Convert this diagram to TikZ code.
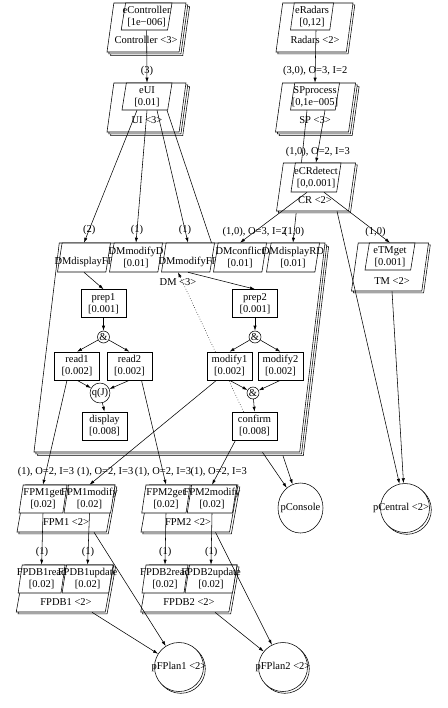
\documentclass[tikz,border=0pt]{standalone}
\usepackage{fontspec}
\setmainfont{Liberation Serif}
\usepackage{tikz}
\usetikzlibrary{calc, shapes.geometric, shadows, arrows.meta}

\begin{document}
\begin{tikzpicture}[x=1pt, y=-1pt, line width=0.55pt,
    font=\fontsize{10.5}{12}\selectfont,
    lqn/.style={trapezium, trapezium left angle=84, trapezium right angle=96,
        trapezium stretches=true, draw, fill=white, inner sep=1pt},
    sh1/.style={general shadow={shadow xshift=1.8pt, shadow yshift=-1.8pt, draw, fill=white}},
    sh2/.style={general shadow={shadow xshift=3.6pt, shadow yshift=-3.6pt, draw, fill=white}, sh1},
    txt/.style={align=center, inner sep=0pt},
    et/.style={label={[txt]center:{#1}}},
    et1/.style={label={[txt, yshift=-4.5pt]center:{#1}}},
    act/.style={draw, fill=white, minimum width=45pt, minimum height=28pt, align=center, inner sep=1pt},
    junc/.style={circle, draw, fill=white, inner sep=0.4pt},
    proc/.style={circle, draw, fill=white, minimum size=49pt, inner sep=0pt},
    call/.style={-{Latex[length=5pt, width=3.2pt]}},
    reply/.style={call, dotted},
    lbl/.style={inner sep=0pt, pos=#1},
]
    \useasboundingbox (0,0) rectangle (447,708);

    % --- 1. 處理器 (processors) ---
    \node[proc, ellipse, minimum width=45pt, minimum height=50pt, et={pConsole}] (pConsole) at (300.5,508) {};
    \node[proc, sh1, label={[txt, xshift=-4pt]center:{pCentral <2>}}] (pCentral) at (405,508) {};
    \node[proc, sh1, et={pFPlan1 <2>}] (pFPlan1) at (179,667) {};
    \node[proc, sh1, et={pFPlan2 <2>}] (pFPlan2) at (283,667) {};

    % --- 2. 上層任務 Controller, Radars ---
    \node[lqn, sh2, minimum width=79pt, minimum height=49pt] (Controller) at (146.5,27.5) {};
    \node[lqn, minimum width=50.8pt, minimum height=27pt, et={eController\\{[1e−006]}}] (eController) at (146.6,16.5) {};
    \node[txt] (ControllerT) at (146,40) {Controller <3>};
    \node[lqn, sh1, minimum width=77pt, minimum height=49pt] (Radars) at (314.5,27.5) {};
    \node[lqn, minimum width=43pt, minimum height=27pt, et={eRadars\\{[0,12]}}] (eRadars) at (312,16.5) {};
    \node[txt] (RadarsT) at (315,40) {Radars <2>};

    % --- 3. UI, SP ---
    \node[lqn, sh2, minimum width=79pt, minimum height=49pt] (UI) at (146.5,107.5) {};
    \node[lqn, minimum width=50pt, minimum height=27pt, et={eUI\\{[0.01]}}] (eUI) at (147,96.5) {};
    \node[txt] (UIT) at (147,120) {UI <3>};
    \node[lqn, sh2, minimum width=80pt, minimum height=49pt] (SP) at (315.5,107.5) {};
    \node[lqn, minimum width=49pt, minimum height=27pt, et={SPprocess\\{[0,1e−005]}}] (SPprocess) at (315,96.5) {};
    \node[txt] (SPT) at (315,120) {SP <3>};

    \draw[call] (eController.south) -- node[lbl=0.77] (c1) {(3)} (eUI.north);
    \draw[call] ($(eRadars.south)+(4,0)$) -- node[lbl=0.77] (c2) {(3,0), O=3, I=2} (SPprocess.north);
    % UI -> pConsole (被 DM 遮住)
    \draw[call] ($(eUI.south)+(20,0)$) -- (pConsole);

    % --- 4. DM 任務與入口 ---
    \node[lqn, sh2, minimum width=291pt, minimum height=209pt] (DM) at (179.5,347.5) {};
    \node[lqn, minimum width=53pt, minimum height=29pt, et1={DMdisplayFP}] (DMdisplayFP) at (84,257.5) {};
    \node[lqn, minimum width=53pt, minimum height=29pt, et={DMmodifyD\\{[0.01]}}] (DMmodifyD) at (136,257.5) {};
    \node[lqn, minimum width=53pt, minimum height=29pt, et1={DMmodifyFP}] (DMmodifyFP) at (188,257.5) {};
    \node[lqn, minimum width=53pt, minimum height=29pt, et={DMconflict\\{[0.01]}}] (DMconflict) at (240,257.5) {};
    \node[lqn, minimum width=53pt, minimum height=29pt, et={DMdisplayRD\\{[0.01]}}] (DMdisplayRD) at (293,257.5) {};
    \node[txt] (DMT) at (178,282) {DM <3>};

    % SP -> DMdisplayRD (被 CR 遮住)
    \draw[call] ($(SPprocess.south)+(-8,0)$) -- node[lbl=0.92] (c3) {(1,0)} (DMdisplayRD.north);

    % --- 5. CR, TM ---
    \node[lqn, sh1, minimum width=79pt, minimum height=48pt] (CR) at (316,187) {};
    \node[lqn, minimum width=50pt, minimum height=29pt, et={eCRdetect\\{[0,0.001]}}] (eCRdetect) at (316,177.5) {};
    \node[txt] (CRT) at (315,200) {CR <2>};
    \node[lqn, sh1, minimum width=77pt, minimum height=48pt] (TM) at (390,267) {};
    \node[lqn, minimum width=50pt, minimum height=27pt, et={eTMget\\{[0.001]}}] (eTMget) at (390,256.5) {};
    \node[txt] (TMT) at (392,281) {TM <2>};

    \draw[call] ($(SPprocess.south)+(10,0)$) -- node[lbl=0.79] (c4) {(1,0), O=2, I=3} (eCRdetect.north);
    \draw[call] ($(eCRdetect.south)+(-9,0)$) -- node[lbl=0.78] (c5) {(1,0), O=3, I=2} (DMconflict.north);
    \draw[call] ($(eCRdetect.south)+(8,0)$) -- node[lbl=0.78] (c6) {(1,0)} (eTMget.north);
    \draw[call] ($(eUI.south)+(-10,0)$) -- node[lbl=0.9] (c7) {(2)} (DMdisplayFP.north);
    \draw[call] (eUI.south) -- node[lbl=0.9] (c8) {(1)} (DMmodifyD.north);
    \draw[call] ($(eUI.south)+(10,0)$) -- node[lbl=0.9] (c9) {(1)} (DMmodifyFP.north);

    % --- 6. DM 內部活動 ---
    \node[act] (prep1) at (103.5,303.5) {prep1\\{[0.001]}};
    \node[act] (prep2) at (255,303.5) {prep2\\{[0.001]}};
    \node[junc] (fork1) at (103.5,337) {\&};
    \node[junc] (fork2) at (255,337) {\&};
    \node[act] (read1) at (77,366) {read1\\{[0.002]}};
    \node[act] (read2) at (129.5,366) {read2\\{[0.002]}};
    \node[junc] (join1) at (100,393) {q(J)};
    \node[act] (display) at (104.5,426) {display\\{[0.008]}};
    \node[act] (confirm) at (254.5,426) {confirm\\{[0.008]}};
    \node[junc] (join2) at (253,393) {\&};
    \draw[reply] ($(confirm.north)+(-11,0)$) -- ($(DMmodifyFP.south)+(-10,0)$);
    \node[act] (modify1) at (229.5,366) {modify1\\{[0.002]}};
    \node[act] (modify2) at (280.5,366) {modify2\\{[0.002]}};

    \draw[call] (DMdisplayFP.south) -- (prep1.north);
    \draw[call] (DMmodifyFP.south) -- (prep2.north);
    \draw[call] (prep1) -- (fork1);
    \draw[call] (fork1) -- (read1.north);
    \draw[call] (fork1) -- (read2.north);
    \draw[call] (read1.south) -- (join1);
    \draw[call] (read2.south) -- (join1);
    \draw[call] (join1) -- (display.north);
    \draw[call] (prep2) -- (fork2);
    \draw[call] (fork2) -- (modify1.north);
    \draw[call] (fork2) -- (modify2.north);
    \draw[call] (modify1.south) -- (join2);
    \draw[call] (modify2.south) -- (join2);
    \draw[call] (join2) -- (confirm.north);

    % --- 7. FPM, FPDB ---
    \node[lqn, sh1, minimum width=98pt, minimum height=47pt] (FPM1) at (66,508.5) {};
    \node[lqn, minimum width=48pt, minimum height=28pt, et={FPM1get\\{[0.02]}}] (FPM1get) at (43,499) {};
    \node[lqn, minimum width=51pt, minimum height=28pt, et={FPM1modify\\{[0.02]}}] (FPM1modify) at (89.5,499) {};
    \node[txt] (FPM1T) at (66,522) {FPM1 <2>};
    \node[lqn, sh1, minimum width=97pt, minimum height=47pt] (FPM2) at (189.5,508.5) {};
    \node[lqn, minimum width=48.5pt, minimum height=28pt, et={FPM2get\\{[0.02]}}] (FPM2get) at (166,499) {};
    \node[lqn, minimum width=49.5pt, minimum height=28pt, et={FPM2modify\\{[0.02]}}] (FPM2modify) at (212,499) {};
    \node[txt] (FPM2T) at (188,522) {FPM2 <2>};
    \node[lqn, sh1, minimum width=97.5pt, minimum height=47pt] (FPDB1) at (65,588.5) {};
    \node[lqn, minimum width=47pt, minimum height=28pt, et={FPDB1read\\{[0.02]}}] (FPDB1read) at (41.6,579) {};
    \node[lqn, minimum width=51pt, minimum height=28pt, et={FPDB1update\\{[0.02]}}] (FPDB1update) at (87.6,579) {};
    \node[txt] (FPDB1T) at (66,602) {FPDB1 <2>};
    \node[lqn, sh1, minimum width=96.5pt, minimum height=47pt] (FPDB2) at (189,588.5) {};
    \node[lqn, minimum width=46pt, minimum height=28pt, et={FPDB2read\\{[0.02]}}] (FPDB2read) at (165,579) {};
    \node[lqn, minimum width=52pt, minimum height=28pt, et={FPDB2update\\{[0.02]}}] (FPDB2update) at (211,579) {};
    \node[txt] (FPDB2T) at (189,602) {FPDB2 <2>};

    \draw[call] ($(read1.south)+(-10,0)$) -- node[lbl=0.876] (c10) {(1), O=2, I=3} (FPM1get.north);
    \draw[call] ($(modify1.south)+(-13,0)$) -- node[lbl=0.876] (c11) {(1), O=2, I=3} (FPM1modify.north);
    \draw[call] ($(read2.south)+(12,0)$) -- node[lbl=0.876] (c12) {(1), O=2, I=3} (FPM2get.north);
    \draw[call] ($(confirm.south)+(-19,0)$) -- node[lbl=0.71] (c13) {(1), O=2, I=3} (FPM2modify.north);
    \draw[call] (FPM1get.south) -- node[lbl=0.75] (c14) {(1)} (FPDB1read.north);
    \draw[call] (FPM1modify.south) -- node[lbl=0.75] (c15) {(1)} (FPDB1update.north);
    \draw[call] (FPM2get.south) -- node[lbl=0.75] (c16) {(1)} (FPDB2read.north);
    \draw[call] (FPM2modify.south) -- node[lbl=0.75] (c17) {(1)} (FPDB2update.north);

    % --- 8. 任務到處理器 ---
    \draw[call] ($(DM.south)+(83,0)$) -- (pConsole);
    \draw[call] ($(CR.south)+(21,0)$) -- (pCentral);
    \draw[call] ($(TM.south)+(2,0)$) -- (pCentral);
    \draw[call] ($(FPM1.south)+(28,0)$) -- (pFPlan1);
    \draw[call] ($(FPDB1.south)+(27,0)$) -- (pFPlan1);
    \draw[call] ($(FPM2.south)+(26,0)$) -- (pFPlan2);
    \draw[call] ($(FPDB2.south)+(26,0)$) -- (pFPlan2);

\end{tikzpicture}
\end{document}
